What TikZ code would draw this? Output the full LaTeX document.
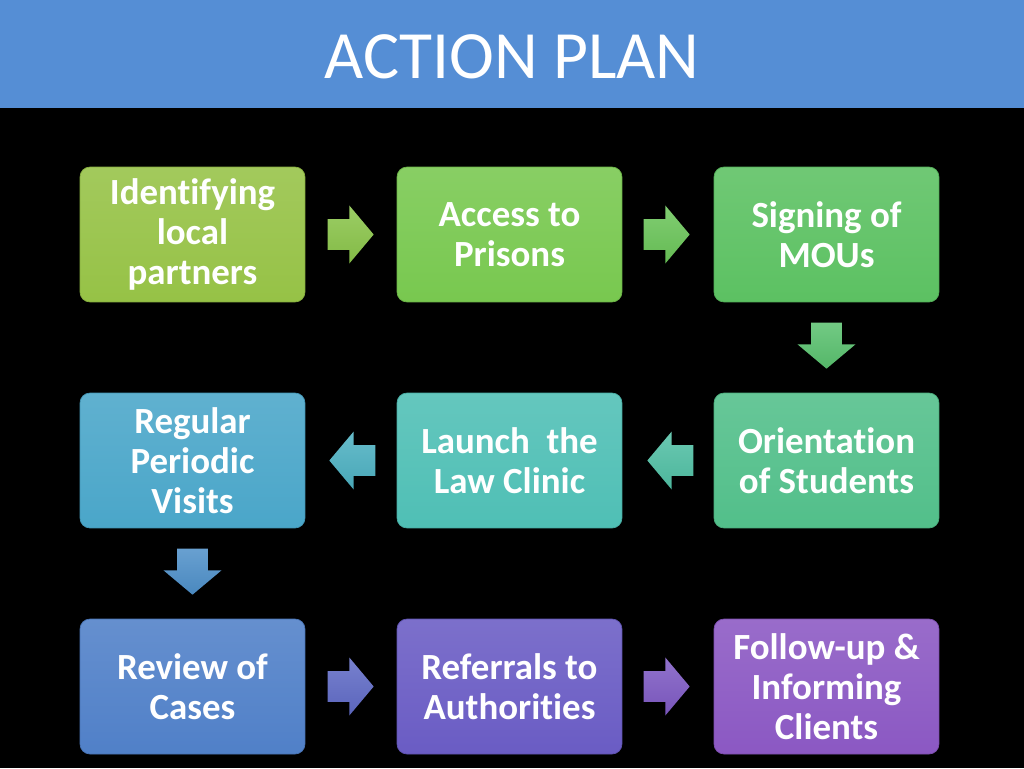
\documentclass[tikz,border=0pt]{standalone}
\usepackage{fontspec}
\setmainfont{Carlito}[Ligatures=NoCommon]
\usetikzlibrary{calc,positioning,shapes.arrows}

\definecolor{barblue}{HTML}{558ED5}
\definecolor{cIdent}{HTML}{96C246}
\definecolor{cAccess}{HTML}{78C84F}
\definecolor{cMou}{HTML}{5CC162}
\definecolor{cOrient}{HTML}{52BF8A}
\definecolor{cLaunch}{HTML}{4FBFB5}
\definecolor{cVisit}{HTML}{4AA6C9}
\definecolor{cReview}{HTML}{5080C8}
\definecolor{cRefer}{HTML}{6A5CC4}
\definecolor{cFollow}{HTML}{8B58C3}

\tikzset{
  stepbox/.style={rounded corners=0.2cm, minimum width=4.5cm, minimum height=2.7cm,
    top color=#1!88!white, bottom color=#1, draw=#1!90!black, line width=0.4pt,
    text=white, align=center, font=\fontsize{21}{22.7}\selectfont\bfseries},
  blockarrow/.style={single arrow, draw=none, inner xsep=0.05cm, inner ysep=0.3cm,
    minimum height=0.92cm, minimum width=1.14cm, single arrow head extend=0.27cm,
    single arrow tip angle=100, anchor=tail,
    top color=#1!85!white, bottom color=#1!95!black},
  downarrow/.style={blockarrow=#1, shape border rotate=270,
    inner xsep=0.3cm, inner ysep=0.05cm},
  leftarrow/.style={blockarrow=#1, shape border rotate=180},
}

\begin{document}
\begin{tikzpicture}[x=0.02cm, y=-0.02cm]
\useasboundingbox (0,0) rectangle (1024,768);
\fill[black] (0,0) rectangle (1024,768);
\fill[barblue] (0,0) rectangle (1024,108);
\node[text=white, font=\fontsize{38.5}{44}\selectfont] (title) at (512,57) {ACTION PLAN};

% row 1
\node[stepbox=cIdent]  (ident)  at (192.5,234.5) {Identifying\\local\\partners};
\node[stepbox=cAccess] (access) at (509.5,234.5) {Access to\\Prisons};
\node[stepbox=cMou]    (mou)    at (826.5,234.5) {Signing of\\MOUs};
% row 2
\node[stepbox=cVisit]  (visits) at (192.5,460.5) {Regular\\Periodic\\Visits};
\node[stepbox=cLaunch] (launch) at (509.5,460.5) {Launch\ \ the\\Law Clinic};
\node[stepbox=cOrient] (orient) at (826.5,460.5) {Orientation\\of Students};
% row 3
\node[stepbox=cReview] (review) at (192.5,686.5) {Review of\\Cases};
\node[stepbox=cRefer]  (refer)  at (509.5,686.5) {Referrals to\\Authorities};
\node[stepbox=cFollow] (follow) at (826.5,686.5) {Follow-up \&\\Informing\\Clients};

% block arrows between the steps
\node[blockarrow=cIdent!60!cAccess] (a1) at ([xshift=0.44cm]ident.east) {};
\node[blockarrow=cAccess!50!cMou] (a2) at ([xshift=0.42cm]access.east) {};
\node[downarrow=cMou!70!cOrient] (a3) at ([yshift=-0.4cm]mou.south) {};
\node[leftarrow=cOrient!40!cLaunch] (a4) at ([xshift=-0.4cm]orient.west) {};
\node[leftarrow=cLaunch!40!cVisit] (a5) at ([xshift=-0.42cm]launch.west) {};
\node[downarrow=cVisit!40!cReview] (a6) at ([yshift=-0.4cm]visits.south) {};
\node[blockarrow=cReview!40!cRefer] (a7) at ([xshift=0.44cm]review.east) {};
\node[blockarrow=cRefer!40!cFollow] (a8) at ([xshift=0.42cm]refer.east) {};
\end{tikzpicture}
\end{document}
